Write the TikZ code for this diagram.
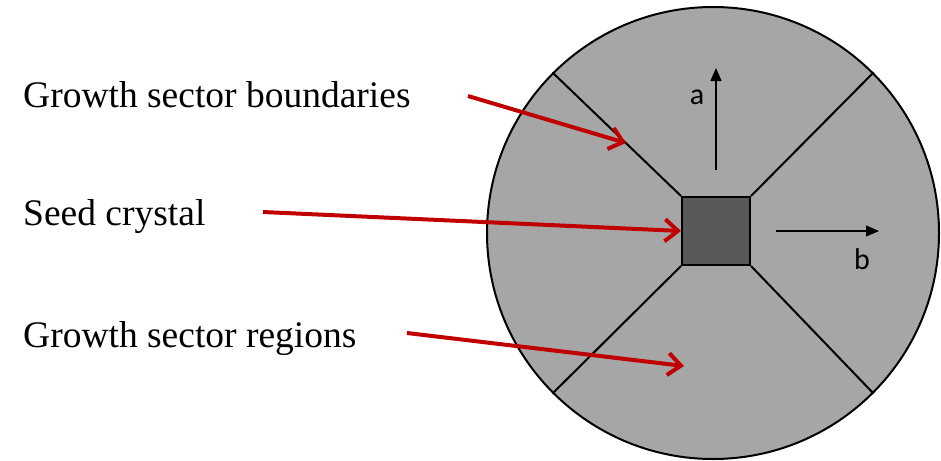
\documentclass[tikz,border=0pt]{standalone}
\usepackage{fontspec}
\setmainfont{Liberation Serif}
\newfontfamily\labfont{Carlito}
\usetikzlibrary{arrows.meta}
\definecolor{diskgray}{RGB}{166,166,166}
\definecolor{seedgray}{RGB}{89,89,89}
\definecolor{arrred}{RGB}{192,0,0}
\begin{document}
\begin{tikzpicture}[x=1pt,y=-1pt,
  lbl/.style={anchor=base west,inner sep=0pt,font=\fontsize{37.5}{44}\selectfont},
  axlbl/.style={inner sep=0pt,font=\labfont\fontsize{30}{35}\selectfont},
  redarr/.style={draw=arrred,line width=4pt,-{Straight Barb[length=13pt,width=22pt,line width=4pt]}},
  axarr/.style={draw=black,line width=1.3pt,-{Triangle[length=13pt,width=11pt]}},
  bound/.style={draw=black,line width=2pt}]
\useasboundingbox (0,0) rectangle (941,460);
\node[circle,draw=black,line width=2pt,fill=diskgray,minimum size=452pt,inner sep=0pt] (disk) at (713,233) {};
\node[draw=black,line width=2pt,fill=seedgray,minimum width=68pt,minimum height=68pt,inner sep=0pt] (sq) at (716,231) {};
\draw[bound] (sq.north west) -- (disk.135);
\draw[bound] (sq.north east) -- (disk.45);
\draw[bound] (sq.south west) -- (disk.225);
\draw[bound] (sq.south east) -- (disk.315);
% axes
\coordinate (a0) at (716,170);
\coordinate (a1) at (716,68);
\coordinate (b0) at (776,231);
\coordinate (b1) at (879,231);
\draw[axarr] (a0) -- (a1);
\draw[axarr] (b0) -- (b1);
\node[axlbl] (la) at (697,97) {a};
\node[axlbl] (lb) at (862,259) {b};
% labels
\node[lbl] (t1) at (23,107) {Growth sector boundaries};
\node[lbl] (t2) at (23,225) {Seed crystal};
\node[lbl] (t3) at (23,347) {Growth sector regions};
\coordinate (s1) at (468,96);
\coordinate (e1) at (626,143);
\coordinate (s2) at (263,212);
\coordinate (s3) at (407,333);
\coordinate (e3) at (684,366);
\draw[redarr] (s1) -- (e1);
\draw[redarr] (s2) -- (sq.west);
\draw[redarr] (s3) -- (e3);
\end{tikzpicture}
\end{document}
